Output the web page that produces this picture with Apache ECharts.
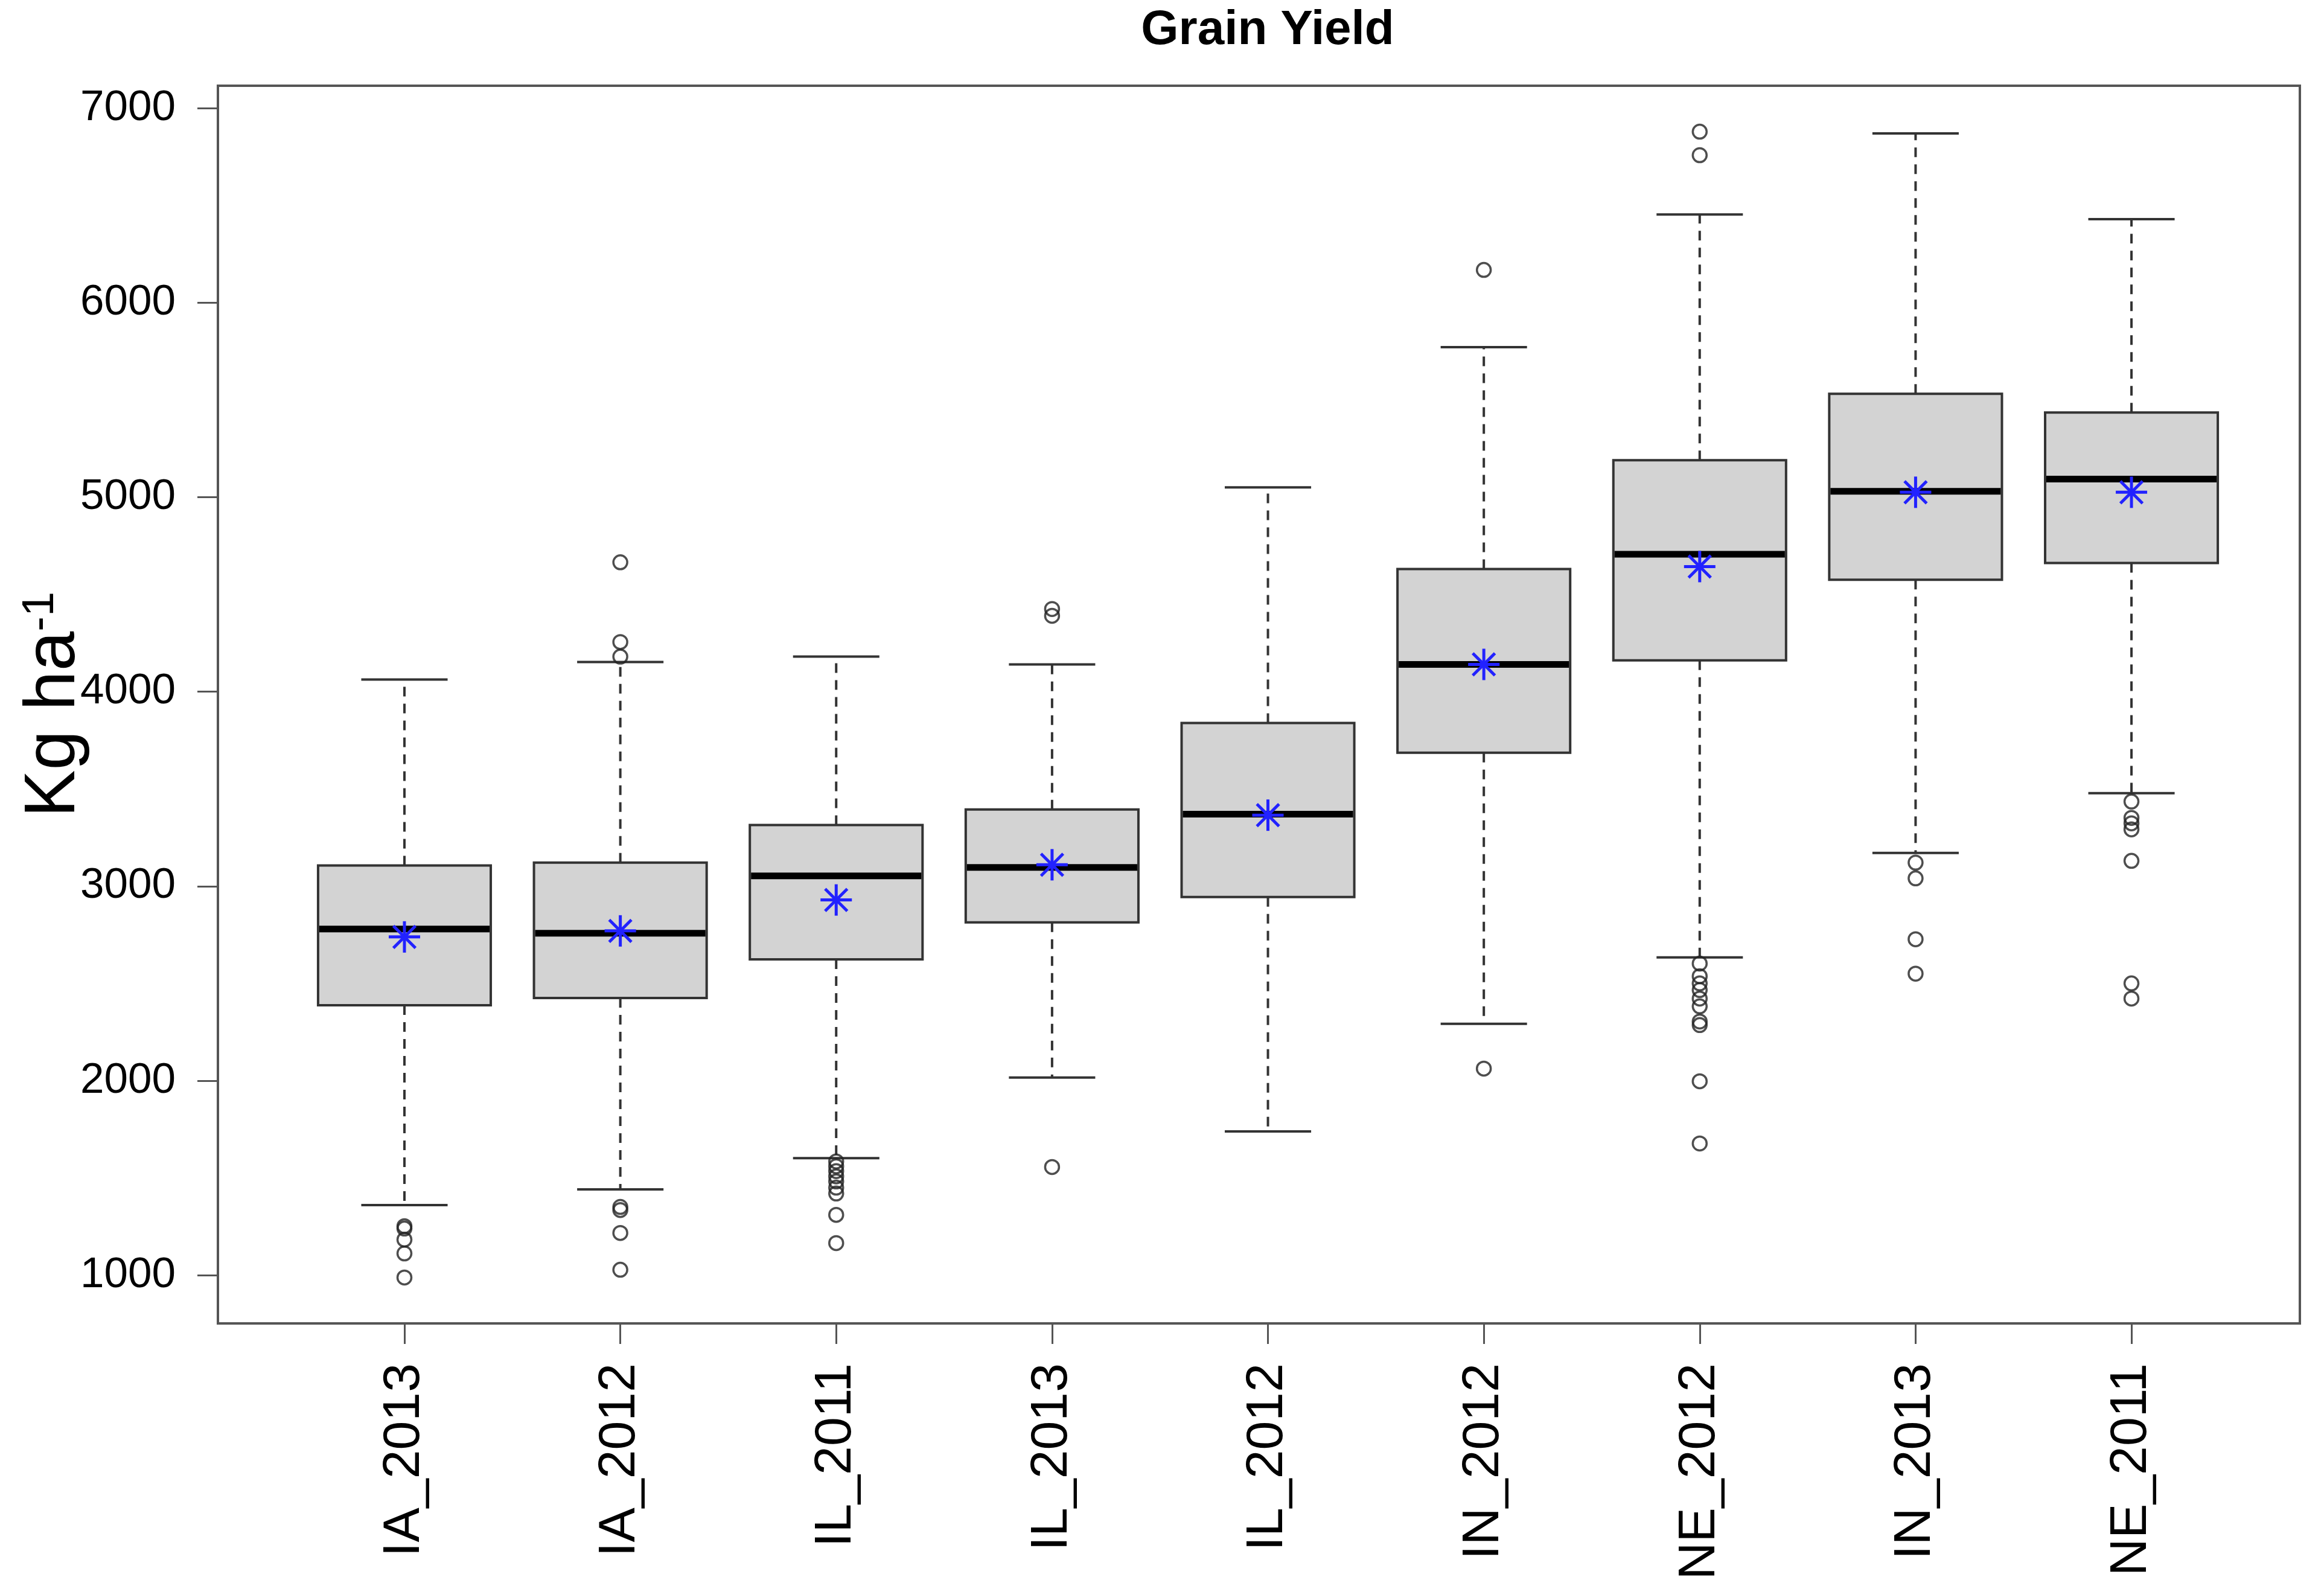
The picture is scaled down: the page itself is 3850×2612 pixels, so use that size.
<!DOCTYPE html>
<html lang="en">
<head>
    <meta charset="UTF-8">
    <title>Grain Yield</title>
    <style>
        html, body { margin: 0; padding: 0; background: #fff; }
        #main { width: 3850px; height: 2612px; }
    </style>
</head>
<body>
    <div id="main"></div>
</body>
</html>
<script src="https://cdn.jsdelivr.net/npm/echarts@6/dist/echarts.min.js"></script>
<script>
    // data (kg/ha)
    var categories = ['IA_2013', 'IA_2012', 'IL_2011', 'IL_2013', 'IL_2012', 'IN_2012', 'NE_2012', 'IN_2013', 'NE_2011'];
    var lowerWhisker = [1360, 1441, 1602, 2016, 1739, 2292, 2634, 3171, 3478];
    var q1 = [2388, 2425, 2624, 2814, 2944, 3686, 4161, 4575, 4661];
    var median = [2780, 2758, 3053, 3096, 3370, 4140, 4706, 5030, 5093];
    var q3 = [3106, 3121, 3314, 3394, 3839, 4630, 5190, 5531, 5435];
    var upperWhisker = [4062, 4152, 4180, 4140, 5050, 5771, 6453, 6870, 6429];
    var means = [2739, 2770, 2929, 3110, 3365, 4140, 4643, 5025, 5025];
    var outliers = [
        [1252, 1240, 1183, 1112, 988],
        [4665, 4255, 4180, 1351, 1335, 1217, 1028],
        [1585, 1560, 1535, 1508, 1482, 1450, 1420, 1310, 1165],
        [4425, 4390, 1556],
        [],
        [6168, 2062],
        [6879, 6758, 2602, 2537, 2500, 2466, 2422, 2382, 2304, 2286, 1997, 1677],
        [3121, 3040, 2727, 2550],
        [3435, 3351, 3323, 3292, 3130, 2500, 2422]
    ];
    var yTicks = [1000, 2000, 3000, 4000, 5000, 6000, 7000];
    var xTicks = [1, 2, 3, 4, 5, 6, 7, 8, 9];

    var boxData = categories.map(function (c, i) {
        return [i + 1, lowerWhisker[i], q1[i], median[i], q3[i], upperWhisker[i]];
    });
    var meanData = means.map(function (m, i) { return [i + 1, m]; });
    var outlierData = [];
    outliers.forEach(function (list, i) {
        list.forEach(function (v) { outlierData.push([i + 1, v]); });
    });

    var lineCol = '#333';
    var font = 'Liberation Sans, Arial, sans-serif';

    function renderBox(params, api) {
        var x = api.value(0);
        var pLw = api.coord([x, api.value(1)]);
        var pQ1 = api.coord([x, api.value(2)]);
        var pMed = api.coord([x, api.value(3)]);
        var pQ3 = api.coord([x, api.value(4)]);
        var pUw = api.coord([x, api.value(5)]);
        var boxW = api.size([0.8, 0])[0];
        var capW = api.size([0.4, 0])[0];
        var cx = pMed[0];
        var dash = { stroke: lineCol, lineWidth: 4, lineDash: [16, 12] };
        var solid = { stroke: lineCol, lineWidth: 4 };
        return {
            type: 'group',
            children: [
                { type: 'line', shape: { x1: cx, y1: pQ3[1], x2: cx, y2: pUw[1] }, style: dash },
                { type: 'line', shape: { x1: cx, y1: pQ1[1], x2: cx, y2: pLw[1] }, style: dash },
                { type: 'line', shape: { x1: cx - capW / 2, y1: pUw[1], x2: cx + capW / 2, y2: pUw[1] }, style: solid },
                { type: 'line', shape: { x1: cx - capW / 2, y1: pLw[1], x2: cx + capW / 2, y2: pLw[1] }, style: solid },
                {
                    type: 'rect',
                    shape: { x: cx - boxW / 2, y: pQ3[1], width: boxW, height: pQ1[1] - pQ3[1] },
                    style: { fill: '#d3d3d3', stroke: lineCol, lineWidth: 4 }
                },
                { type: 'line', shape: { x1: cx - boxW / 2 + 2, y1: pMed[1], x2: cx + boxW / 2 - 2, y2: pMed[1] }, style: { stroke: '#000', lineWidth: 11 } }
            ]
        };
    }

    // R pch=8 star for the means
    function renderStar(params, api) {
        var p = api.coord([api.value(0), api.value(1)]);
        var r = 26, d = r * 0.7071;
        var st = { stroke: '#2222ff', lineWidth: 5 };
        return {
            type: 'group',
            children: [
                { type: 'line', shape: { x1: p[0] - r, y1: p[1], x2: p[0] + r, y2: p[1] }, style: st },
                { type: 'line', shape: { x1: p[0], y1: p[1] - r, x2: p[0], y2: p[1] + r }, style: st },
                { type: 'line', shape: { x1: p[0] - d, y1: p[1] - d, x2: p[0] + d, y2: p[1] + d }, style: st },
                { type: 'line', shape: { x1: p[0] - d, y1: p[1] + d, x2: p[0] + d, y2: p[1] - d }, style: st }
            ]
        };
    }

    var chart = echarts.init(document.getElementById('main'));
    var option = {
        backgroundColor: '#fff',
        animation: false,
        title: {
            text: 'Grain Yield',
            left: 2095,
            textAlign: 'center',
            top: 6,
            textStyle: { fontFamily: font, fontWeight: 'bold', fontSize: 80, color: '#000' }
        },
        grid: {
            left: 361, right: 40, top: 142, bottom: 420,
            outerBoundsMode: 'none',
            containLabel: false,
            show: true, borderColor: '#555', borderWidth: 4, backgroundColor: 'transparent'
        },
        xAxis: {
            type: 'value',
            min: 0.136,
            max: 9.78,
            splitLine: { show: false },
            axisLine: { show: false },
            axisTick: { show: true, customValues: xTicks, length: 34, lineStyle: { color: '#555', width: 3 } },
            axisLabel: {
                customValues: xTicks,
                rotate: 90,
                margin: 66,
                fontFamily: font,
                fontSize: 86,
                color: '#000',
                formatter: function (v) { return categories[Math.round(v) - 1] || ''; }
            }
        },
        yAxis: {
            type: 'value',
            min: 752,
            max: 7115,
            splitLine: { show: false },
            axisLine: { show: false },
            axisTick: { show: true, customValues: yTicks, length: 34, lineStyle: { color: '#555', width: 3 } },
            axisLabel: {
                customValues: yTicks,
                margin: 70,
                fontFamily: font,
                fontSize: 71,
                color: '#000',
                formatter: function (v) { return String(v); }
            },
            name: '{a|Kg ha}{b|-1}',
            nameLocation: 'middle',
            nameRotate: 90,
            nameGap: 212,
            nameMoveOverlap: false,
            nameTextStyle: {
                rich: {
                    a: { fontFamily: font, fontSize: 118, color: '#000' },
                    b: { fontFamily: font, fontSize: 74, color: '#000', verticalAlign: 'top', padding: [0, 0, 40, 0] }
                }
            }
        },
        series: [
            {
                name: 'box',
                type: 'custom',
                renderItem: renderBox,
                data: boxData,
                encode: { x: 0, y: [1, 2, 3, 4, 5] },
                z: 2
            },
            {
                name: 'outliers',
                type: 'scatter',
                data: outlierData,
                symbol: 'circle',
                symbolSize: 23,
                itemStyle: { color: 'rgba(0,0,0,0)', borderColor: '#222', borderWidth: 3.5 },
                z: 3
            },
            {
                name: 'mean',
                type: 'custom',
                renderItem: renderStar,
                data: meanData,
                encode: { x: 0, y: 1 },
                z: 4
            }
        ]
    };
    chart.setOption(option);
</script>
